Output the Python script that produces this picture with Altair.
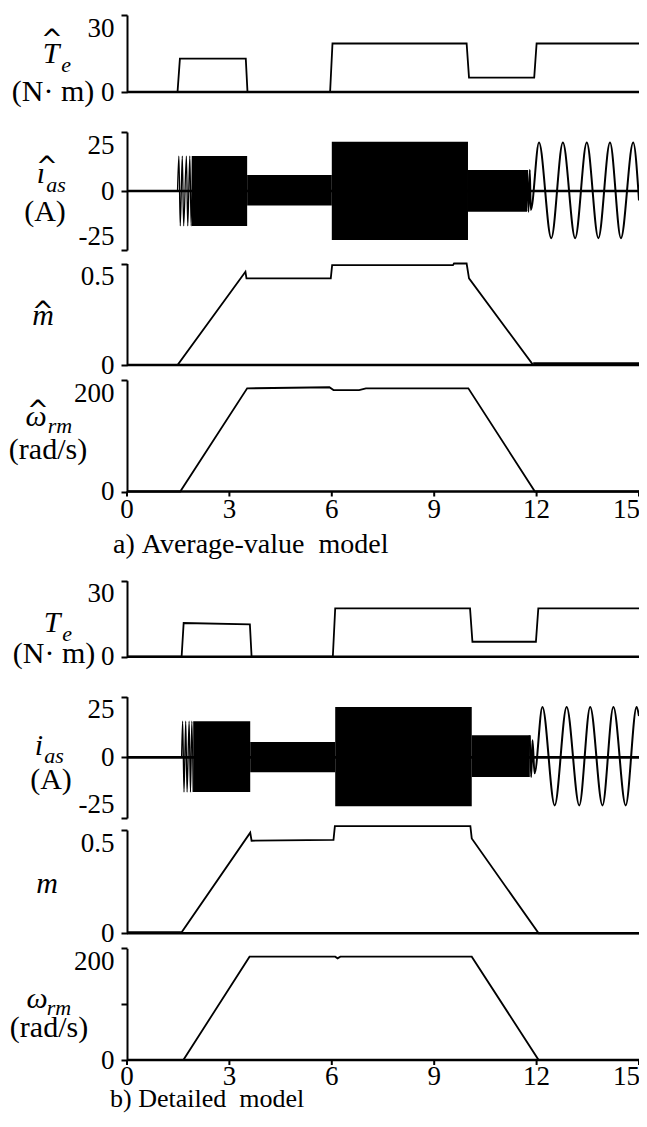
import altair as alt
import pandas as pd

FONT = "Liberation Serif"
X0, Y0 = 127, 8  # page position of the plot origin
W = 512          # plot width (t = 0 .. 15)
H = 1106

# ---------------- data ----------------
x_ticks = [0, 3, 6, 9, 12, 15]

# a) Average-value model
te_a_t = [0, 1.48, 1.55, 3.48, 3.53, 5.95, 6.02, 9.95, 10.02, 11.93, 12.0, 15]
te_a_v = [0, 0, 13.0, 13.0, 0, 0, 18.9, 18.9, 5.6, 5.6, 18.9, 18.9]

ias_a_t0 = [1.90, 3.52, 6.0, 9.99]
ias_a_t1 = [3.52, 6.0, 9.99, 11.72]
ias_a_hi = [14.8, 6.8, 20.9, 8.9]
ias_a_lo = [-14.8, -6.1, -20.8, -8.8]
ias_a_start_t = [1.48, 1.52, 1.56, 1.62, 1.66, 1.74, 1.78, 1.84, 1.88, 1.92]
ias_a_start_v = [0, 14.8, -14.8, 14.8, -14.8, 14.8, -14.8, 14.8, -14.8, 14.8]
ias_a_tail_t = [11.72, 11.76, 11.80, 11.83, 12.07, 12.43, 12.77, 13.13, 13.47, 13.81, 14.15, 14.47, 14.83, 15.0]
ias_a_tail_v = [8.9, -8.8, 8.9, -8.0, 20.5, -20.0, 20.5, -20.0, 20.5, -20.0, 20.5, -20.0, 20.5, -4.0]

m_a_t = [0, 1.48, 3.47, 3.50, 5.97, 6.01, 9.55, 9.58, 9.95, 10.02, 11.9, 15]
m_a_v = [0, 0, 0.459, 0.427, 0.427, 0.492, 0.492, 0.5, 0.5, 0.427, 0, 0]
m_a_noise_t = [11.9, 15]
m_a_noise_v = [0.008, 0.008]

w_a_t = [0, 1.56, 3.52, 5.93, 6.05, 6.8, 7.0, 10.0, 11.95, 15]
w_a_v = [0, 0, 185, 187, 182, 182, 185, 185, 0, 0]

# b) Detailed model
te_b_t = [0, 1.6, 1.66, 3.6, 3.65, 6.03, 6.1, 10.05, 10.12, 11.98, 12.05, 15]
te_b_v = [0, 0, 13.3, 12.8, 0, 0, 19.1, 19.1, 5.9, 5.9, 19.1, 19.1]

ias_b_t0 = [1.94, 3.61, 6.1, 10.1]
ias_b_t1 = [3.61, 6.1, 10.1, 11.8]
ias_b_hi = [14.9, 6.3, 20.8, 9.1]
ias_b_lo = [-14.3, -6.1, -20.2, -8.1]
ias_b_start_t = [1.6, 1.63, 1.67, 1.72, 1.76, 1.82, 1.86, 1.9, 1.94]
ias_b_start_v = [0, 14.9, -14.3, 14.9, -14.3, 14.9, -14.3, 14.9, -14.3]
ias_b_tail_t = [11.8, 11.84, 11.88, 11.94, 12.17, 12.53, 12.88, 13.25, 13.57, 13.93, 14.25, 14.61, 14.93, 15.0]
ias_b_tail_v = [9.1, -8.1, 7.0, -6.6, 20.8, -19.8, 20.8, -19.8, 20.8, -19.8, 20.8, -19.8, 20.8, 17.0]

m_b_t = [0, 1.6, 3.61, 3.65, 6.05, 6.09, 10.06, 10.1, 12.06, 15]
m_b_v = [0.005, 0.005, 0.487, 0.448, 0.452, 0.519, 0.519, 0.459, 0, 0]

w_b_t = [0, 1.65, 3.59, 6.1, 6.17, 6.25, 10.1, 12.06, 15]
w_b_v = [0, 0, 185, 185, 182, 185, 185, 0, 0]

# ---------------- helpers ----------------
xscale = alt.Scale(domain=[0, 15], range=[0, W], nice=False, zero=False)
dummy = pd.DataFrame({"k": [0]})


def yscale(domain, bottom_page, top_page):
    return alt.Scale(domain=domain, range=[bottom_page - Y0, top_page - Y0], nice=False, zero=False)


def yaxis(values, top, hide_mid=False, flush=False):
    expr = "datum.value == 100 ? '' : toString(datum.value)" if hide_mid else "toString(datum.value)"
    kw = dict(values=values, orient="left", title=None, grid=False,
              domainColor="black", domainWidth=2, tickColor="black", tickWidth=2,
              tickSize=6, labelFont=FONT, labelFontSize=27, labelColor="black",
              labelPadding=7, labelOverlap=False, labelBound=False, labelExpr=expr)
    if flush:
        kw["labelFlush"] = True
    else:
        kw["labelFlush"] = False
        kw["labelBaseline"] = {"condition": {"test": f"datum.value == {top}", "value": "top"},
                               "value": "middle"}
    return alt.Axis(**kw)


def series(t, v):
    return pd.DataFrame({"t": t, "v": v, "i": list(range(len(t)))})


def line(t, v, ys, axis=None, width=1.8, interp="linear"):
    return alt.Chart(series(t, v)).mark_line(color="black", strokeWidth=width, interpolate=interp).encode(
        x=alt.X("t:Q", scale=xscale, axis=None),
        y=alt.Y("v:Q", scale=ys, axis=axis),
        order="i:Q")


def bands(t0, t1, hi, lo, ys):
    df = pd.DataFrame({"t0": t0, "t1": t1, "hi": hi, "lo": lo})
    return alt.Chart(df).mark_rect(color="black").encode(
        x=alt.X("t0:Q", scale=xscale, axis=None), x2="t1:Q",
        y=alt.Y("hi:Q", scale=ys, axis=None), y2="lo:Q")


def zero_rule(ys, width=2.6):
    return alt.Chart(dummy).mark_rule(color="black", strokeWidth=width).encode(
        x=alt.value(0), x2=alt.value(W), y=alt.Y(datum=0, scale=ys, axis=None))


def label(text, px, py, size, italic=False, align="center", font=FONT):
    return alt.Chart(dummy).mark_text(text=text, font=font, fontSize=size,
                                      fontStyle="italic" if italic else "normal",
                                      align=align, baseline="alphabetic", color="black").encode(
        x=alt.value(px - X0), y=alt.value(py - Y0))


def hat(px, py_center, size=26):
    return label("^", px, py_center + 0.575 * size, size, font="DejaVu Sans")


def xaxis(py_axis, py_labels):
    ticks = pd.DataFrame({"t": x_ticks})
    tk = alt.Chart(ticks).mark_rule(color="black", strokeWidth=2).encode(
        x=alt.X("t:Q", scale=xscale, axis=None),
        y=alt.value(py_axis - Y0), y2=alt.value(py_axis - Y0 + 5))
    lab = alt.Chart(pd.DataFrame({"t": x_ticks[:-1]})).mark_text(
        font=FONT, fontSize=27, baseline="alphabetic", align="center", color="black").encode(
        x=alt.X("t:Q", scale=xscale, axis=None), y=alt.value(py_labels - Y0), text="t:Q")
    last = alt.Chart(pd.DataFrame({"t": x_ticks[-1:]})).mark_text(
        font=FONT, fontSize=27, baseline="alphabetic", align="right", dx=1, color="black").encode(
        x=alt.X("t:Q", scale=xscale, axis=None), y=alt.value(py_labels - Y0), text="t:Q")
    return [tk, lab, last]


layers = []

# ---------- a) ----------
ys = yscale([0, 30], 92, 15)
layers += [zero_rule(ys), line(te_a_t, te_a_v, ys, yaxis([0, 30], 30))]
ys = yscale([-25, 25], 250, 132)
layers += [bands(ias_a_t0, ias_a_t1, ias_a_hi, ias_a_lo, ys), zero_rule(ys),
           line(ias_a_start_t, ias_a_start_v, ys, yaxis([-25, 0, 25], 25, flush=True), 1.3, "monotone"),
           line(ias_a_tail_t, ias_a_tail_v, ys, None, 2.0, "monotone")]
ys = yscale([0, 0.5], 365, 263.5)
layers += [zero_rule(ys), line(m_a_t, m_a_v, ys, yaxis([0, 0.5], 0.5)),
           line(m_a_noise_t, m_a_noise_v, ys, None, 2.2)]
ys = yscale([0, 200], 491.5, 380)
layers += [zero_rule(ys), line(w_a_t, w_a_v, ys, yaxis([0, 200], 200))]
layers += xaxis(491.5, 518)

# ---------- b) ----------
ys = yscale([0, 30], 656.7, 580.7)
layers += [zero_rule(ys), line(te_b_t, te_b_v, ys, yaxis([0, 30], 30))]
ys = yscale([-25, 25], 818, 696.7)
layers += [bands(ias_b_t0, ias_b_t1, ias_b_hi, ias_b_lo, ys), zero_rule(ys),
           line(ias_b_start_t, ias_b_start_v, ys, yaxis([-25, 0, 25], 25, flush=True), 1.3, "monotone"),
           line(ias_b_tail_t, ias_b_tail_v, ys, None, 2.0, "monotone")]
ys = yscale([0, 0.5], 933.3, 830)
layers += [zero_rule(ys), line(m_b_t, m_b_v, ys, yaxis([0, 0.5], 0.5))]
ys = yscale([0, 200], 1060, 948.3)
layers += [zero_rule(ys), line(w_b_t, w_b_v, ys, yaxis([0, 100, 200], 200, hide_mid=True))]
layers += xaxis(1060, 1085)

# ---------- axis titles ----------
layers += [
    hat(52, 33), label("T", 51, 63, 30, True), label("e", 66, 72, 22, True),
    label("(N\u00b7 m)", 53, 101, 30),
    hat(47, 160), label("\u0131", 41, 183, 30, True), label("as", 56, 192, 22, True),
    label("(A)", 45, 221, 30),
    hat(43, 305), label("m", 43, 325, 30, True),
    hat(38, 404), label("\u03c9", 36, 426, 30, True), label("rm", 60, 433, 22, True),
    label("(rad/s)", 48, 459, 30),
    label("a)\u00a0Average-value\u00a0 model", 113, 553, 28, align="left"),

    label("T", 52, 632, 30, True), label("e", 67, 641, 22, True),
    label("(N\u00b7 m)", 54, 663, 30),
    label("i", 39, 755, 30, True), label("as", 54, 763, 22, True),
    label("(A)", 51, 789, 30),
    label("m", 47, 893, 30, True),
    label("\u03c9", 37, 1008, 30, True), label("rm", 59, 1015, 22, True),
    label("(rad/s)", 49, 1037, 30),
    label("b)\u00a0Detailed\u00a0 model", 110, 1107, 26, align="left"),
]

chart = alt.layer(*layers).properties(
    width=W, height=H,
    padding={"left": X0 - 8, "top": 0, "right": 0, "bottom": 0},
    autosize=alt.AutoSizeParams(type="none"),
).resolve_scale(y="independent").configure_view(stroke=None)

chart.save("out.html", embed_options={"renderer": "svg", "actions": False})
